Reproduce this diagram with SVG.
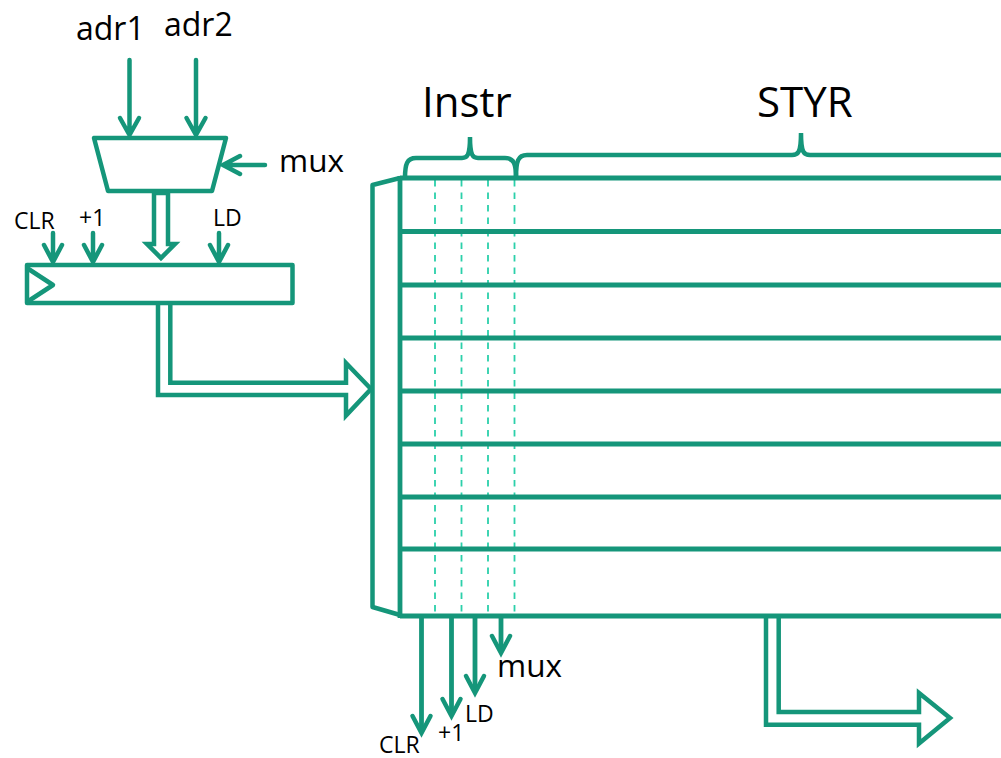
<svg xmlns="http://www.w3.org/2000/svg" width="1001" height="758" viewBox="0 0 1001 758">
<style>
.s{fill:none;stroke:#15967a;stroke-width:4.5;stroke-linejoin:round}
.p{fill:none;stroke:#15967a;stroke-width:4.5;stroke-linejoin:miter;stroke-miterlimit:6}
.a{fill:none;stroke:#15967a;stroke-width:4.5;stroke-linecap:round;stroke-linejoin:miter}
.m{fill:none;stroke:#15967a;stroke-width:4.8}
.d{fill:none;stroke:#2bd0aa;stroke-width:1.8;stroke-dasharray:6.500 6}
.br{fill:none;stroke:#15967a;stroke-width:4.500}
text{font-family:"Open Sans","Liberation Sans",sans-serif;fill:#000}
.l{font-size:32px}
.x{font-size:31.500px}
.h{font-size:42px}
.t{font-size:23px}
</style>
<g id="matrix">
<path class="d" d="M435 180V615M461.500 180V615M488 180V615M514.500 180V615"/>
<path class="m" d="M400 178H1001M400 231.500H1001M400 285H1001M400 338H1001M400 391H1001M400 444H1001M400 497H1001M400 549H1001M400 616H1001"/>
<path class="m" d="M400 176V618"/>
</g>
<g id="decoder"><path class="s" d="M400 178L372.500 185V607L400 615"/></g>
<g id="mux"><path class="s" d="M94 138H226L212 191H108Z"/></g>
<g id="register"><rect class="s" x="27" y="265" width="265.500" height="38"/><path class="s" d="M27 268L53 285L27 302"/></g>
<g id="braces">
<path class="br" d="M405 178C405 164 407 158 416 158H462C467 158 470 156 470 137C470 156 473 158 478 158H505C514 158 516 164 516 178"/>
<path class="br" d="M516 178C516 161 518 155 527 155H792C798 155 801 153 801 133C801 153 804 155 810 155H1001"/>
</g>
<g id="connectors">
<path class="a" d="M129.500 60V134M120 118L129.500 135L139 118"/>
<path class="a" d="M196 60V134M186.500 118L196 135L205.500 118"/>
<path class="a" d="M265 165H224M240 156L223 165L240 174"/>
<path class="a" d="M53 233V261M44 245L53 262L62 245"/>
<path class="a" d="M93 233V261M84 245L93 262L102 245"/>
<path class="a" d="M219 233V261M210 245L219 262L228 245"/>
<path class="p" d="M154 193V244H147L161 258L175 244H168V193"/>
<path class="s" d="M153 193H170"/>
<path class="p" d="M158 303V395H346V415.500L371 389L346 363V382.700H170.300V303"/>
<path class="p" d="M766 616V724.700H919V743.500L950 718L919 693V712H778.700V616"/>
<path class="m" d="M421.500 617V732"/>
<path class="a" d="M412.500 716L421.500 733L430.500 716"/>
<path class="m" d="M451.500 617V715"/>
<path class="a" d="M442.500 699L451.500 716L460.500 699"/>
<path class="m" d="M475 617V692"/>
<path class="a" d="M466 676L475 693L484 676"/>
<path class="m" d="M501 617V652"/>
<path class="a" d="M492 636L501 653L510 636"/>
</g>
<g id="labels">
<text class="l" x="76" y="40">adr1</text>
<text class="l" x="164" y="36">adr2</text>
<text class="x" x="279" y="172">mux</text>
<text class="h" x="422" y="117">Instr</text>
<text class="h" x="757" y="117">STYR</text>
<text class="t" x="14" y="229">CLR</text>
<text class="t" x="79" y="226">+1</text>
<text class="t" x="213" y="226">LD</text>
<text class="x" x="497" y="677">mux</text>
<text class="t" x="465" y="722">LD</text>
<text class="t" x="438" y="741">+1</text>
<text class="t" x="379" y="753">CLR</text>
</g>
</svg>
